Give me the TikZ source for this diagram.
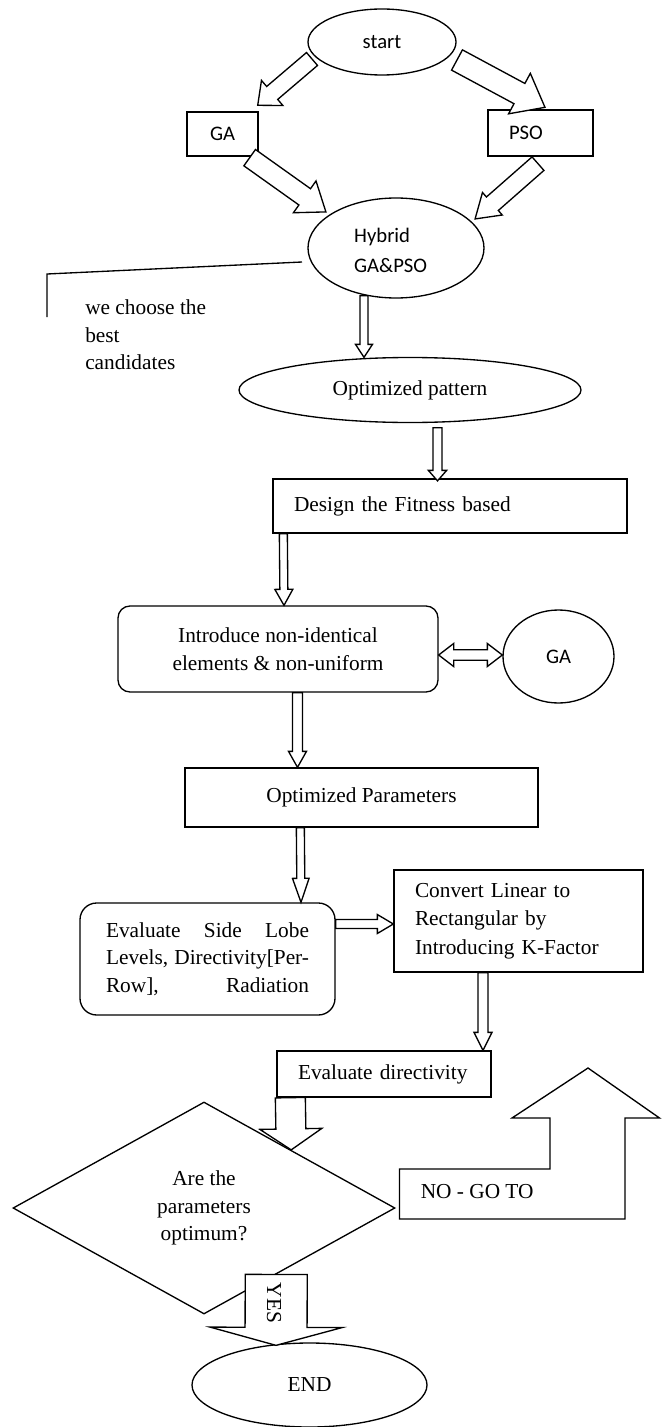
\documentclass[tikz,border=0pt]{standalone}
\usepackage{fontspec}
\setmainfont{Liberation Serif}
\newfontfamily\calibri{Carlito}
\usetikzlibrary{shapes.geometric,calc}

% hollow block arrow: from, to, shaft half width, head half width, head length (all in px of the grid)
\newcommand{\fatarrow}[5]{%
  \draw [blockarrow] let \p1=(#1), \p2=(#2), \n1={atan2(\y2-\y1,\x2-\x1)}, \n2={veclen(\x2-\x1,\y2-\y1)} in
    [shift={(\p1)}, rotate=\n1] (0pt,{-#3*0.75pt}) -- ({\n2-#5*0.75pt},{-#3*0.75pt}) -- ({\n2-#5*0.75pt},{-#4*0.75pt}) -- (\n2,0pt)
    -- ({\n2-#5*0.75pt},{#4*0.75pt}) -- ({\n2-#5*0.75pt},{#3*0.75pt}) -- (0pt,{#3*0.75pt}) -- cycle ;}
% same with a head at both ends
\newcommand{\fatdarrow}[5]{%
  \draw [blockarrow] let \p1=(#1), \p2=(#2), \n1={atan2(\y2-\y1,\x2-\x1)}, \n2={veclen(\x2-\x1,\y2-\y1)} in
    [shift={(\p1)}, rotate=\n1] (0pt,0pt) -- ({#5*0.75pt},{-#4*0.75pt}) -- ({#5*0.75pt},{-#3*0.75pt}) -- ({\n2-#5*0.75pt},{-#3*0.75pt})
    -- ({\n2-#5*0.75pt},{-#4*0.75pt}) -- (\n2,0pt) -- ({\n2-#5*0.75pt},{#4*0.75pt}) -- ({\n2-#5*0.75pt},{#3*0.75pt})
    -- ({#5*0.75pt},{#3*0.75pt}) -- ({#5*0.75pt},{#4*0.75pt}) -- cycle ;}
% justified line of the side lobe box
\newcommand{\jline}[1]{\makebox[152.25pt][s]{#1}}

\begin{document}
\begin{tikzpicture}[x=0.75pt,y=0.75pt,yscale=-1,xscale=1,
    outline/.style={line width=1pt},
    box/.style={draw, outline, rectangle, inner sep=0pt},
    rbox/.style={draw, outline, rectangle, rounded corners=#1, inner sep=0pt},
    rbox/.default=9pt,
    oval/.style={draw, outline, ellipse, inner sep=0pt},
    decision/.style={draw, outline, diamond, inner sep=0pt},
    blockarrow/.style={draw, outline, fill=white, line join=miter},
    serif/.style={font=\fontsize{16}{20.6}\selectfont},
    sans/.style={font=\calibri\fontsize{15.5}{22.5}\selectfont}]
        \useasboundingbox (0,0) rectangle (661,1427);

        %Shape: Ellipse
        \node [oval, sans, minimum width=111pt, minimum height=49.5pt] (start) at (382,42) {start};
        %Shape: Rectangle
        \node [box, sans, minimum width=53.25pt, minimum height=33pt] (ga) at (222.5,134) {GA};
        %Shape: Rectangle
        \node [box, sans, text width=47.25pt, inner xsep=15.75pt, align=left, minimum height=34.5pt] (pso) at (540.5,133) {PSO};
        %Shape: Ellipse
        \node [oval, sans, align=left, minimum width=132pt, minimum height=75pt] (hybrid) at (396,248) {\rule{0pt}{14pt}Hybrid\\GA\&PSO\hspace*{8pt}};

        % Text Node
        \node [serif, anchor=west, align=left, inner sep=0pt] (note) at (85,335) {we choose the\\best\\candidates};
        \coordinate (kink) at (47,274);
        \coordinate (foot) at (47,317);
        %Straight Lines
        \draw [outline] ($(hybrid.center)+(-94,14)$) -- (kink) -- (foot) ;

        %Shape: Ellipse
        \node [oval, serif, minimum width=256.5pt, minimum height=48.75pt] (opt) at (410,390) {Optimized pattern};
        %Shape: Rectangle
        \node [box, serif, text width=234pt, inner xsep=15.75pt, align=left, minimum height=40.5pt] (fitness) at (450,506) {Design the Fitness based};
        %Rounded Rect
        \node [rbox, serif, align=center, minimum width=240pt, minimum height=64.5pt] (intro) at (278,649) {Introduce non-identical\\elements \& non-uniform};
        %Shape: Ellipse
        \node [oval, sans, minimum width=83.25pt, minimum height=69.75pt] (ga2) at (558.5,656.5) {GA};
        %Shape: Rectangle
        \node [box, serif, minimum width=264.75pt, minimum height=44.25pt] (params) at (361.5,797.5) {Optimized Parameters};
        %Rounded Rect
        \node [rbox=12.5pt, serif, align=left, minimum width=191.25pt, minimum height=84pt] (evalsll) at (207.5,959)
            {\jline{Evaluate Side Lobe}\\\jline{Levels, Directivity[Per-}\\\jline{Row], Radiation}};
        %Shape: Rectangle
        \node [box, serif, text width=155.25pt, inner xsep=15.75pt, align=left, minimum height=76.5pt, font=\fontsize{16}{21.4}\selectfont] (convert) at (518.5,921) {Convert Linear to\\Rectangular by\\Introducing K-Factor};
        %Shape: Rectangle
        \node [box, serif, text width=129pt, inner xsep=15.75pt, align=left, minimum height=34.5pt] (evaldir) at (384,1074) {Evaluate directivity};
        %Shape: Diamond
        \node [decision, serif, align=center, minimum width=286.5pt, minimum height=159pt] (decide) at (204,1208) {Are the\\parameters\\optimum?};
        %Shape: Ellipse
        \node [oval, serif, minimum width=176.25pt, minimum height=63pt] (endnode) at (309.5,1385) {END};

        %Shape: Up Arrow (NO branch)
        \draw [outline] (399.5,1219) -- (399.5,1169) -- (550,1169) -- (550,1118) -- (512,1118) -- (588,1068) -- (659.5,1118) -- (625,1118) -- (625,1219) -- cycle ;
        % Text Node
        \node [serif, anchor=west, inner sep=0pt] (nogo) at (420.5,1192) {NO - GO TO};

        %Block Arrows
        \fatarrow{$(start.center)+(-70,17)$}{$(ga.north east)+(-1,-6)$}{8.5}{16.5}{19}
        \fatarrow{$(start.center)+(75,18)$}{$(pso.north)+(4.5,-2)$}{11.5}{23}{29}
        \fatarrow{$(ga.south east)+(-9,1)$}{$(hybrid.center)+(-70,-36)$}{10}{19.5}{26}
        \fatarrow{$(pso.south)+(-2.5,7)$}{$(hybrid.center)+(79,-29)$}{9}{15}{23}
        \fatarrow{$(hybrid.south)+(-32,-3)$}{$(opt.north)+(-46,0.5)$}{4}{8.5}{13}
        \fatarrow{$(opt.south)+(27.5,4.5)$}{$(fitness.north)+(-12.5,2.5)$}{4.5}{9.2}{10.5}
        \fatarrow{$(fitness.south west)+(11,0)$}{$(intro.north)+(6,0)$}{4}{9}{16}
        \fatdarrow{$(intro.east)+(0,6)$}{$(ga2.west)+(0,-1.5)$}{5.3}{11.5}{15}
        \fatarrow{$(intro.south)+(19.5,0)$}{$(params.north)+(-64,0)$}{5}{9}{16}
        \fatarrow{$(params.south west)+(116,0)$}{$(evalsll.north)+(93.5,0)$}{4}{8.3}{24}
        \fatarrow{$(evalsll.east)+(0,-35)$}{$(convert.west)+(0,3)$}{4.5}{9.5}{16}
        \fatarrow{$(convert.south)+(-35.5,0)$}{$(evaldir.north)+(99,0)$}{5}{9}{18}
        \fatarrow{$(evaldir.south west)+(14,0)$}{$(decide.north)!0.455!(decide.east)$}{15}{31}{21}
        \fatarrow{$(decide.south)!0.377!(decide.east)$}{$(endnode.north)+(-33.5,3)$}{31}{66}{18}

        % Text Node
        \node [serif, rotate=-90, inner sep=0pt] (yes) at (274,1303) {YES};

    \end{tikzpicture}
\end{document}
